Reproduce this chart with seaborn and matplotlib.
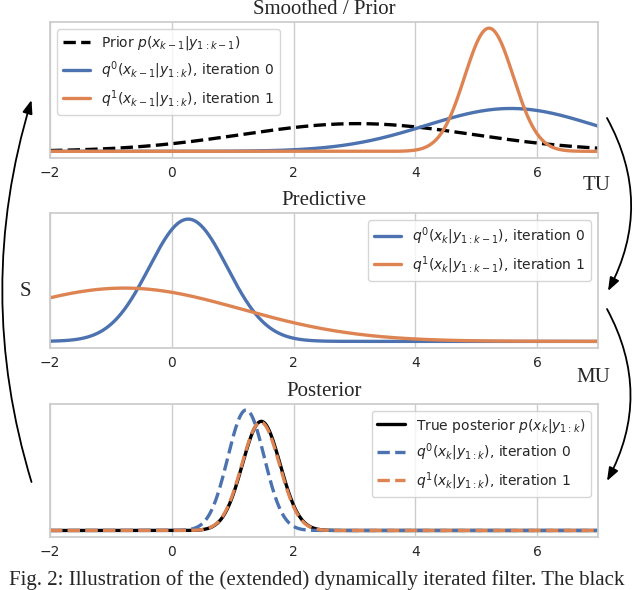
import numpy as np
import pandas as pd
import matplotlib
matplotlib.use("Agg")
import matplotlib.pyplot as plt
import seaborn as sns
from matplotlib.patches import FancyArrowPatch

# ---------------- data ----------------
x_range = [-2, 7]
x_ticks = [-2, 0, 2, 4, 6]
panel_titles = ["Smoothed / Prior", "Predictive", "Posterior"]

# each curve is a bell shape: centre, spread and peak height (relative)
smooth_labels = [r"Prior $p(x_{k-1}|y_{1:k-1})$",
                 r"$q^0(x_{k-1}|y_{1:k})$, iteration 0",
                 r"$q^1(x_{k-1}|y_{1:k})$, iteration 1"]
smooth_means = [3.05, 5.57, 5.21]
smooth_stds = [1.9, 1.39, 0.40]
smooth_peaks = [0.225, 0.348, 1.0]

pred_labels = [r"$q^0(x_k|y_{1:k-1})$, iteration 0",
               r"$q^1(x_k|y_{1:k-1})$, iteration 1"]
pred_means = [0.27, -0.78]
pred_stds = [0.64, 1.92]
pred_peaks = [1.0, 0.436]

post_labels = [r"True posterior $p(x_k|y_{1:k})$",
               r"$q^0(x_k|y_{1:k})$, iteration 0",
               r"$q^1(x_k|y_{1:k})$, iteration 1"]
post_means = [1.47, 1.22, 1.46]
post_stds = [0.31, 0.30, 0.31]
post_peaks = [0.906, 1.0, 0.90]

step_labels = ["TU", "MU", "S"]
caption = "Fig. 2: Illustration of the (extended) dynamically iterated filter. The black"

# ---------------- style ----------------
sns.set_theme(style="whitegrid")
plt.rcParams['font.family'] = ['DejaVu Sans']
plt.rcParams['mathtext.fontset'] = 'dejavusans'
BLUE, ORANGE = sns.color_palette("deep")[0], sns.color_palette("deep")[1]
SERIF = ['Liberation Serif', 'DejaVu Serif']
LW = 2.4

grid = np.linspace(x_range[0], x_range[1], 900)


def bell_frame(means, stds, peaks, labels):
    rows = []
    for m, s, p, lab in zip(means, stds, peaks, labels):
        dens = p * np.exp(-0.5 * ((grid - m) / s) ** 2)
        rows.append(pd.DataFrame({"x": grid, "density": dens, "series": lab}))
    return pd.concat(rows, ignore_index=True)


W, H = 640, 590
fig = plt.figure(figsize=(W / 100, H / 100), dpi=100)


def px_axes(top, bottom, left=50, right=598):
    return fig.add_axes([left / W, 1 - bottom / H, (right - left) / W, (bottom - top) / H])


ax1 = px_axes(22, 157.5)
ax2 = px_axes(213, 347.5)
ax3 = px_axes(404, 536.5)

panels = [
    (ax1, bell_frame(smooth_means, smooth_stds, smooth_peaks, smooth_labels), smooth_labels,
     ["black", BLUE, ORANGE], ["--", "-", "-"], "upper left"),
    (ax2, bell_frame(pred_means, pred_stds, pred_peaks, pred_labels), pred_labels,
     [BLUE, ORANGE], ["-", "-"], "upper right"),
    (ax3, bell_frame(post_means, post_stds, post_peaks, post_labels), post_labels,
     ["black", BLUE, ORANGE], ["-", "--", "--"], "upper right"),
]

for (ax, df, labels, colors, styles, loc), title in zip(panels, panel_titles):
    for lab, c, ls in zip(labels, colors, styles):
        sub = df[df["series"] == lab]
        sns.lineplot(data=sub, x="x", y="density", ax=ax, color=c,
                     linestyle=ls, linewidth=LW, label=lab)
    ax.set_xlim(*x_range)
    ax.set_xticks(x_ticks)
    ax.set_yticks([])
    ax.set_xlabel("")
    ax.set_ylabel("")
    ax.tick_params(axis="x", labelsize=10, pad=6, length=0)
    ax.set_title(title, fontfamily=SERIF, fontsize=15, pad=5.5)
    ax.legend(loc=loc, fontsize=10, frameon=True)
    ax.grid(axis="y", visible=False)

# ---------------- cycle arrows and labels ----------------
def fig_pt(x, y):
    return (x / W, 1 - y / H)

arrow_kw = dict(transform=fig.transFigure, arrowstyle="-|>,head_length=0.8,head_width=0.3",
                mutation_scale=10, color="black", lw=1.3, shrinkA=0, shrinkB=0)
fig.patches.append(FancyArrowPatch(fig_pt(607, 118), fig_pt(608, 291),
                                   connectionstyle="arc3,rad=-0.27", **arrow_kw))
fig.patches.append(FancyArrowPatch(fig_pt(607, 309), fig_pt(607, 481),
                                   connectionstyle="arc3,rad=-0.27", **arrow_kw))
fig.patches.append(FancyArrowPatch(fig_pt(31.5, 482), fig_pt(31.5, 100),
                                   connectionstyle="arc3,rad=-0.152", **arrow_kw))

fig.text(*fig_pt(597, 186), step_labels[0], fontfamily=SERIF, fontsize=15,
         ha="center", va="center")
fig.text(*fig_pt(593, 377), step_labels[1], fontfamily=SERIF, fontsize=15,
         ha="center", va="center")
fig.text(*fig_pt(25, 292), step_labels[2], fontfamily=SERIF, fontsize=15,
         ha="center", va="center")

fig.text(*fig_pt(9, 585), caption, fontfamily=SERIF, fontsize=15,
         ha="left", va="baseline")

fig.savefig("out.png", dpi=100)
